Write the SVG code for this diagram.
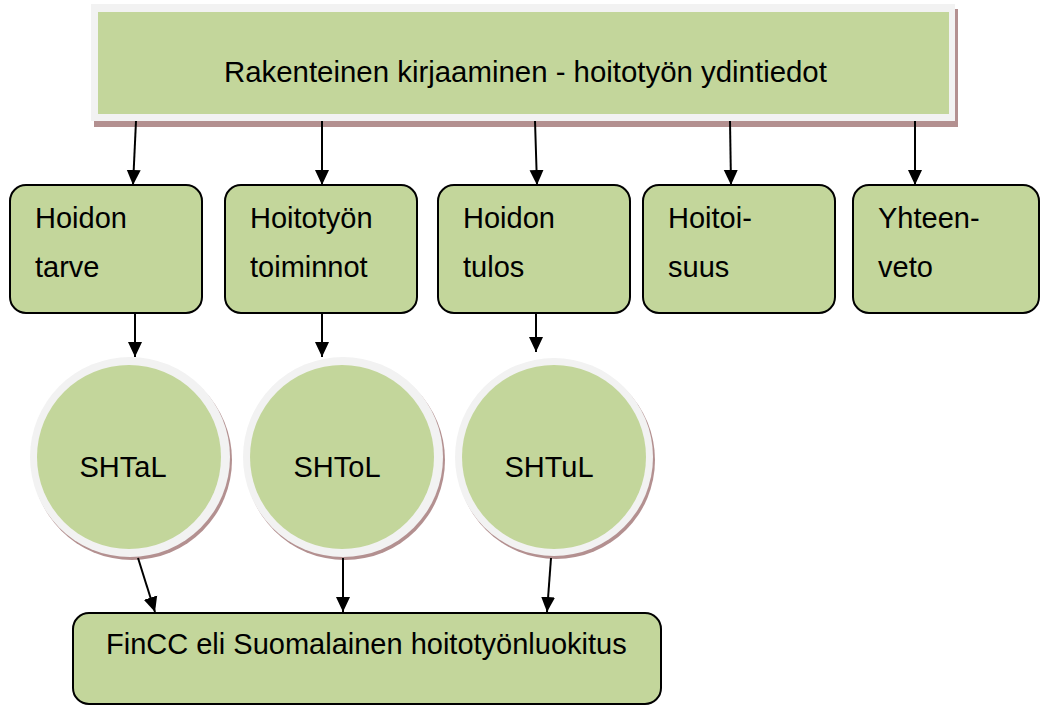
<svg xmlns="http://www.w3.org/2000/svg" width="1041" height="706" viewBox="0 0 1041 706">
  <defs>
    <marker id="arrow" viewBox="0 0 15 14" refX="15" refY="7" markerWidth="15" markerHeight="15" markerUnits="userSpaceOnUse" orient="auto">
      <path d="M0,0 L15,7 L0,14 z" fill="#000"/>
    </marker>
  </defs>
  <style>
    text { font-family: "Liberation Sans", Arial, sans-serif; font-size: 29px; fill: #000; }
    .title { font-size: 29.4px; }
    .box { fill: #c3d69b; stroke: #000; stroke-width: 2; }
    .shadow { fill: #b39090; }
    .frame { fill: #f2f2f2; }
    .green { fill: #c3d69b; }
    .conn line { stroke: #000; stroke-width: 2; marker-end: url(#arrow); }
  </style>
  <rect width="1041" height="706" fill="#fff"/>

  <g id="top">
    <rect class="shadow" x="94" y="9" width="864" height="118"/>
    <rect class="frame" x="91" y="4" width="864" height="117"/>
    <rect class="green" x="98" y="12" width="851" height="102"/>
    <text class="title" x="224" y="82">Rakenteinen kirjaaminen - hoitotyön ydintiedot</text>
  </g>

  <g id="hoidon-tarve">
    <rect class="box" x="10" y="185" width="192" height="128" rx="16"/>
    <text x="35" y="228">Hoidon</text>
    <text x="35" y="277">tarve</text>
  </g>
  <g id="hoitotyon-toiminnot">
    <rect class="box" x="225" y="185" width="192" height="128" rx="16"/>
    <text x="250" y="228">Hoitotyön</text>
    <text x="250" y="277">toiminnot</text>
  </g>
  <g id="hoidon-tulos">
    <rect class="box" x="438" y="185" width="192" height="128" rx="16"/>
    <text x="463" y="228">Hoidon</text>
    <text x="463" y="277">tulos</text>
  </g>
  <g id="hoitoisuus">
    <rect class="box" x="643" y="185" width="192" height="128" rx="16"/>
    <text x="668" y="228">Hoitoi-</text>
    <text x="668" y="277">suus</text>
  </g>
  <g id="yhteenveto">
    <rect class="box" x="853" y="185" width="186" height="128" rx="16"/>
    <text x="878" y="228">Yhteen-</text>
    <text x="878" y="277">veto</text>
  </g>

  <g id="shtal">
    <circle class="shadow" cx="132" cy="460" r="100"/>
    <circle class="frame" cx="130" cy="457" r="100"/>
    <circle class="green" cx="129" cy="457" r="92"/>
    <text x="123" y="477" text-anchor="middle">SHTaL</text>
  </g>
  <g id="shtol">
    <circle class="shadow" cx="345" cy="460" r="100"/>
    <circle class="frame" cx="343" cy="457" r="100"/>
    <circle class="green" cx="342" cy="457" r="92"/>
    <text x="337" y="477" text-anchor="middle">SHToL</text>
  </g>
  <g id="shtul">
    <circle class="shadow" cx="556" cy="460" r="99"/>
    <circle class="frame" cx="554" cy="457" r="99"/>
    <circle class="green" cx="554" cy="457" r="92"/>
    <text x="549" y="477" text-anchor="middle">SHTuL</text>
  </g>

  <g id="fincc">
    <rect class="box" x="73" y="613" width="588" height="91" rx="16"/>
    <text x="106" y="654">FinCC eli Suomalainen hoitotyönluokitus</text>
  </g>

  <g class="conn" id="connectors">
    <line x1="136" y1="121" x2="133" y2="185"/>
    <line x1="322" y1="121" x2="322" y2="185"/>
    <line x1="535" y1="121" x2="537" y2="185"/>
    <line x1="730" y1="121" x2="731" y2="185"/>
    <line x1="915" y1="121" x2="915" y2="185"/>
    <line x1="135" y1="313" x2="135" y2="357"/>
    <line x1="322" y1="313" x2="322" y2="357"/>
    <line x1="536" y1="313" x2="536" y2="352"/>
    <line x1="138" y1="558" x2="155" y2="612"/>
    <line x1="343" y1="558" x2="343" y2="612"/>
    <line x1="551" y1="558" x2="547" y2="612"/>
  </g>
</svg>
